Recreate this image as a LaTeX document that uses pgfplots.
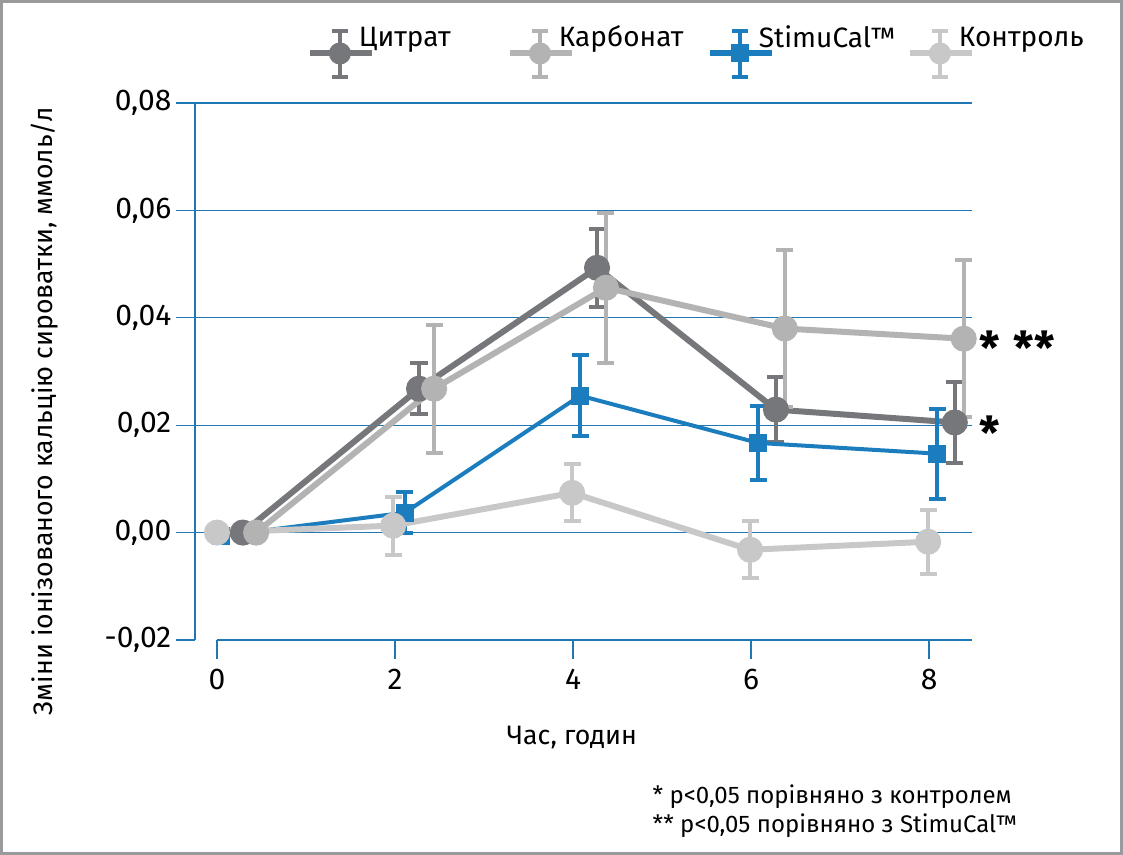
\documentclass[border=0pt]{standalone}
\usepackage{pgfplots}
\pgfplotsset{compat=1.18}
\usepackage{fontspec}
\setmainfont{Fira Sans}
\definecolor{citr}{HTML}{76777B}
\definecolor{carb}{HTML}{B3B3B3}
\definecolor{stim}{HTML}{1B7DBD}
\definecolor{ctrl}{HTML}{C8C8C8}
\definecolor{gridb}{HTML}{1F78B4}
\definecolor{framec}{HTML}{9A9A9C}
\newcommand{\bigf}{\fontsize{20}{24}\selectfont}
\newcommand{\legf}{\fontsize{21}{24}\selectfont}
\newcommand{\tickf}{\fontsize{22.5}{26}\selectfont}
\newcommand{\starf}{\fontsize{34}{36}\selectfont\bfseries}
\pgfplotsset{
  legcirc/.style={legend image code/.code={
    \draw[overlay, line width=4.5pt] (-36.75pt,-12pt) -- (9.75pt,-12pt);
    \draw[overlay, line width=3pt] (-14.25pt,5pt) -- (-14.25pt,-30pt);
    \draw[overlay, line width=3pt] (-20.25pt,5pt) -- (-8.25pt,5pt) (-20.25pt,-30pt) -- (-8.25pt,-30pt);
    \fill[overlay] (-14.25pt,-12pt) circle (6pt);
  }},
  legsq/.style={legend image code/.code={
    \draw[overlay, line width=4.5pt] (-36.75pt,-12pt) -- (9.75pt,-12pt);
    \draw[overlay, line width=3pt] (-14.25pt,5pt) -- (-14.25pt,-30pt);
    \draw[overlay, line width=3pt] (-20.25pt,5pt) -- (-8.25pt,5pt) (-20.25pt,-30pt) -- (-8.25pt,-30pt);
    \fill[overlay] (-19.5pt,-17.25pt) rectangle (-9pt,-6.75pt);
  }},
  ser/.style={color=#1, line width=4.5pt, mark=*, mark size=7.5pt, mark options={solid, draw=none},
    error bars/y dir=both, error bars/y explicit,
    error bars/error mark=|,
    error bars/error bar style={line width=3pt, #1},
    error bars/error mark options={line width=3pt, mark size=6.4pt, #1}},
}
\begin{document}
\begin{tikzpicture}
\useasboundingbox (0pt,0pt) rectangle (842.25pt,641.25pt);
\draw[framec, line width=2.25pt] (1.125pt,1.125pt) rectangle (841.125pt,640.125pt);
\begin{axis}[
  at={(146.25pt,161.25pt)}, anchor=south west,
  scale only axis, width=582.75pt, height=402.75pt,
  xmin=-0.247, xmax=8.483, ymin=-0.02, ymax=0.08,
  clip=false,
  axis y line*=left, axis x line*=bottom,
  y axis line style={gridb, line width=1pt},
  x axis line style={draw=none},
  xtick={0,2,4,6,8},
  ytick={0,0.02,0.04,0.06,0.08},
  extra y ticks={-0.02},
  extra y tick style={grid=none},
  ymajorgrids, grid style={gridb, line width=1pt},
  tick align=outside, major tick length=14.25pt,
  tick style={gridb, line width=1pt},
  scaled y ticks=false,
  yticklabel={\pgfmathprintnumber[fixed,fixed zerofill,precision=2,use comma,assume math mode=true]{\tick}},
  xticklabel={\pgfmathprintnumber[assume math mode=true]{\tick}},
  tick label style={font=\tickf},
  xticklabel style={yshift=-4pt},
  xlabel={Час, годин},
  ylabel={Зміни іонізованого кальцію сироватки, ммоль/л},
  label style={font=\bigf},
  ylabel style={at={(rel axis cs:-0.193,0.426)}, anchor=center},
  xlabel style={at={(rel axis cs:0.485,-0.1825)}, anchor=center},
  legend columns=4,
  legend cell align=left,
  legend style={draw=none, fill=none, inner sep=0pt, outer sep=0pt,
    at={(rel axis cs:0.211,1.122)}, anchor=west, font=\legf,
    /tikz/column sep=0pt, nodes={inner sep=0pt}},
]
\addplot[ser=citr, legcirc] coordinates {
  (0.29,0) +- (0,0)
  (2.27,0.0268) +- (0,0.0048)
  (4.27,0.0493) +- (0,0.0072)
  (6.28,0.0229) +- (0,0.0060)
  (8.29,0.0205) +- (0,0.0076)
};
\addlegendentry{\makebox[150pt][l]{Цитрат}}
\addplot[ser=carb, legcirc] coordinates {
  (0.44,0) +- (0,0)
  (2.44,0.0268) +- (0,0.0119)
  (4.37,0.0456) +- (0,0.0140)
  (6.38,0.0380) +- (0,0.0146)
  (8.39,0.0361) +- (0,0.0146)
};
\addlegendentry{\makebox[150pt][l]{Карбонат}}
\addplot[ser=stim, line width=3pt, mark=square*, mark size=5.25pt, legsq] coordinates {
  (0.05,-0.0006) +- (0,0)
  (2.11,0.0037) +- (0,0.0038)
  (4.08,0.0255) +- (0,0.0075)
  (6.08,0.0167) +- (0,0.0069)
  (8.09,0.0147) +- (0,0.0084)
};
\addlegendentry{\makebox[150pt][l]{StimuCal™}}
\addplot[ser=ctrl, legcirc] coordinates {
  (0,0) +- (0,0)
  (1.98,0.0013) +- (0,0.0054)
  (3.99,0.0074) +- (0,0.0053)
  (5.99,-0.0032) +- (0,0.0053)
  (7.99,-0.0017) +- (0,0.0060)
};
\addlegendentry{\makebox[150pt][l]{Контроль}}
\draw[gridb, line width=1pt] (axis cs:0,-0.02) -- (rel axis cs:1,0);
\node[anchor=base, font=\starf, yshift=-18.5pt] at (axis cs:8.685,0.0359) {*};
\node[anchor=base, font=\starf, yshift=-18.5pt] at (axis cs:9.18,0.0359) {**};
\node[anchor=base, font=\starf, yshift=-18.5pt] at (axis cs:8.685,0.0201) {*};
\end{axis}
\node[anchor=west, font=\fontsize{18}{20}\selectfont] at (486pt,43.5pt) {* p<0,05 порівняно з контролем};
\node[anchor=west, font=\fontsize{18}{20}\selectfont] at (486pt,21.75pt) {** p<0,05 порівняно з StimuCal™};
\end{tikzpicture}
\end{document}
